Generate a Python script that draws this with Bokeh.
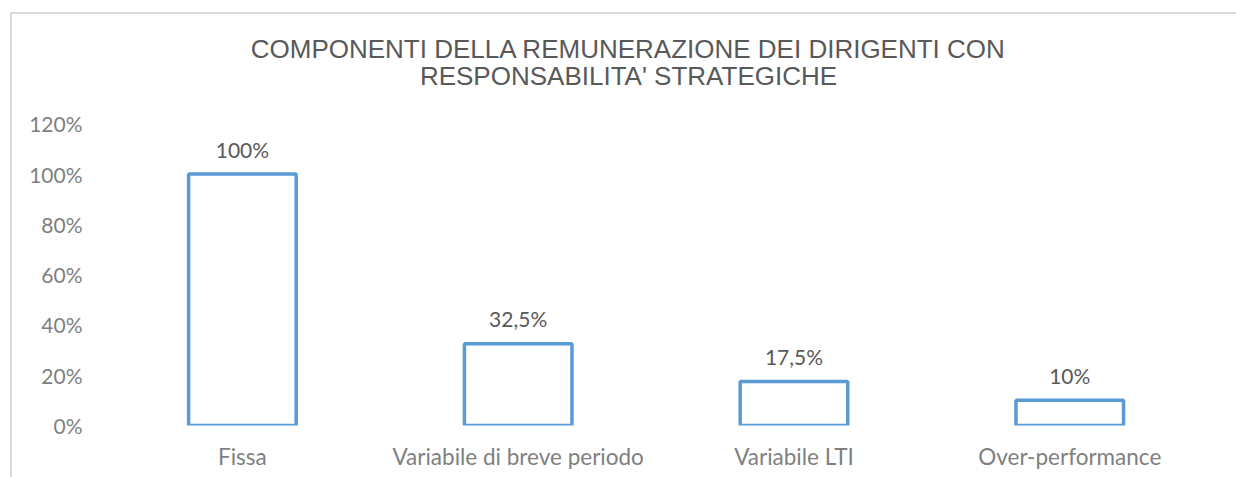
from bokeh.plotting import figure
from bokeh.models import (Range1d, FixedTicker, NumeralTickFormatter, ColumnDataSource,
                          InlineStyleSheet, Label)
from bokeh.core.properties import value
from bokeh.embed import file_html
from bokeh.resources import INLINE

categories = ["Fissa", "Variabile di breve periodo", "Variabile LTI", "Over-performance"]
values = [1.0, 0.325, 0.175, 0.10]
value_labels = ["100%", "32,5%", "17,5%", "10%"]
y_ticks = [0, 0.2, 0.4, 0.6, 0.8, 1.0, 1.2]
title_lines = ["COMPONENTI DELLA REMUNERAZIONE DEI DIRIGENTI CON", "RESPONSABILITA' STRATEGICHE"]

DARK = "#595959"
GREY = "#7F7F7F"
BLUE = "#5B9BD5"
LABEL_FONT = "Lato"

xs = list(range(len(categories)))

FRAME_LEFT, FRAME_BOTTOM, FRAME_TOP = 104, 425, 20
# the frame reaches up to y=20 px so the title can be drawn inside it;
# 1.2 still lands at ~123 px (251.5 px per unit)
Y_END = (FRAME_BOTTOM - FRAME_TOP) / 251.5

p = figure(width=1236, height=477, x_range=Range1d(-0.5, 3.30), y_range=Range1d(0, Y_END),
           output_backend="svg", toolbar_location=None,
           min_border_left=FRAME_LEFT, min_border_right=84, min_border_top=FRAME_TOP,
           min_border_bottom=477 - FRAME_BOTTOM)
p.background_fill_color = "white"
p.border_fill_color = "white"
p.outline_line_color = None
p.xgrid.grid_line_color = None
p.ygrid.grid_line_color = None

# title lines (screen units: x from frame left, y from frame bottom)
for i, line in enumerate(title_lines):
    p.add_layout(Label(x=628 - FRAME_LEFT, y=FRAME_BOTTOM - (48 + 27 * i),
                       x_units="screen", y_units="screen", text=line,
                       text_align="center", text_baseline="middle", text_color=DARK,
                       text_font="Liberation Sans", text_font_size="26px"))

src = ColumnDataSource(dict(x=xs, top=values, lab=value_labels))
p.vbar(x="x", top="top", width=0.39, source=src, fill_color="white",
       line_color=BLUE, line_width=3.5)
p.text(x="x", y="top", text="lab", source=src, text_align="center", text_baseline="middle",
       y_offset=-25, text_color=DARK, text_font_size="21px", text_font=value(LABEL_FONT))

p.yaxis.ticker = FixedTicker(ticks=y_ticks)
p.yaxis.formatter = NumeralTickFormatter(format="0%")
p.xaxis.ticker = FixedTicker(ticks=xs)
p.xaxis.major_label_overrides = {i: c for i, c in zip(xs, categories)}
for ax in (p.xaxis[0], p.yaxis[0]):
    ax.axis_line_color = None
    ax.major_tick_line_color = None
    ax.minor_tick_line_color = None
    ax.major_tick_out = 0
    ax.major_tick_in = 0
    ax.major_label_text_color = GREY
    ax.major_label_text_font = LABEL_FONT
    ax.major_label_text_font_size = "21px"
p.xaxis.major_label_text_font_size = "22.5px"
p.yaxis.major_label_standoff = 22
p.xaxis.major_label_standoff = 17

# chart-area border (light grey frame: left and top edges visible)
p.stylesheets = [InlineStyleSheet(css="""
:host { position: relative; }
:host::before { content: ""; position: absolute; left: 10px; top: 12px; width: 1226px; height: 2px;
  background: #D9D9D9; pointer-events: none; z-index: 10; }
:host::after { content: ""; position: absolute; left: 10px; top: 12px; width: 2px; height: 465px;
  background: #D9D9D9; pointer-events: none; z-index: 10; }
""")]

open("out.html", "w").write(file_html(p, INLINE))
